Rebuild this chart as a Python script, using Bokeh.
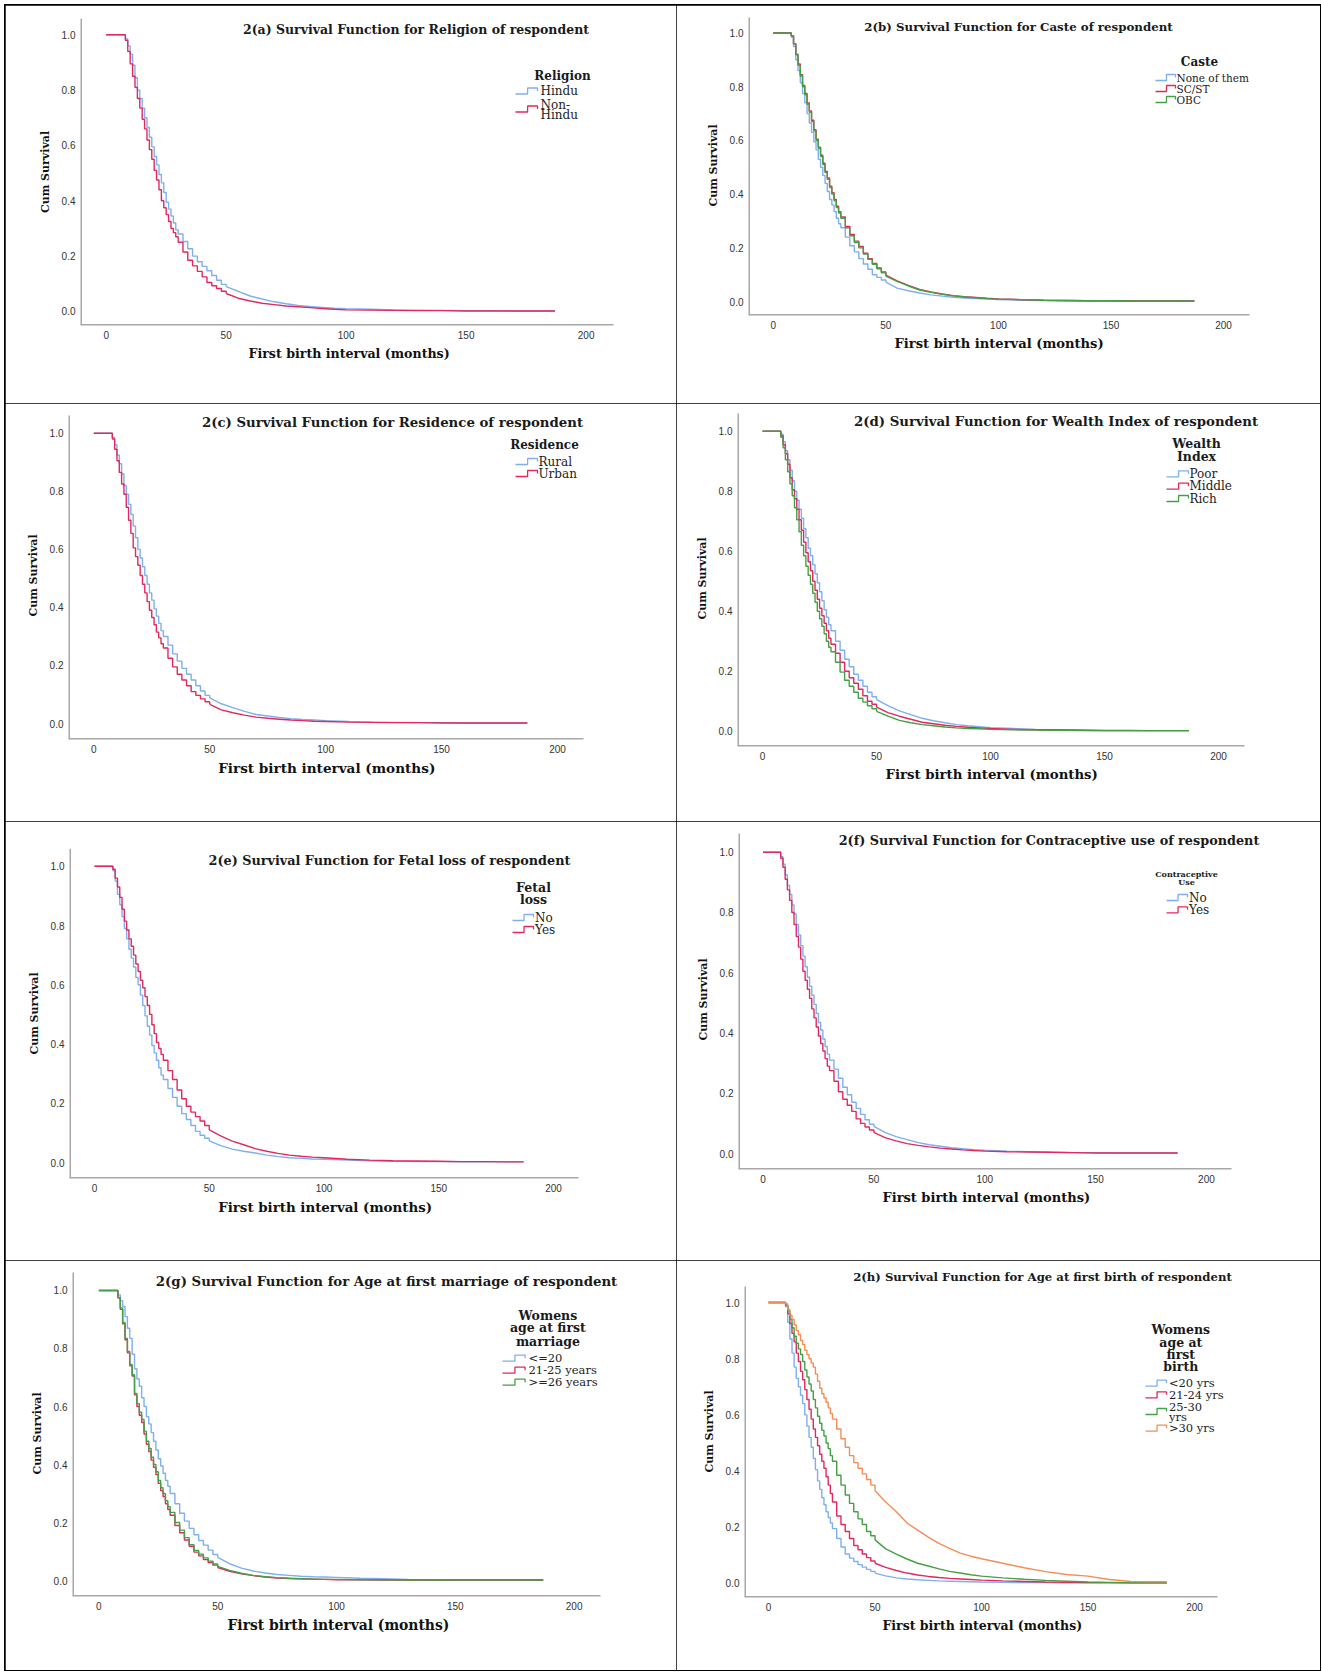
from bokeh.plotting import figure
from bokeh.layouts import column, row
from bokeh.models import Range1d, FixedTicker, PrintfTickFormatter, Label, Title
from bokeh.embed import file_html
from bokeh.resources import INLINE

# ---------------- data ----------------
MONTHS = [0, 7, 8, 9, 10, 11, 12, 13, 14, 15, 16, 17, 18, 19, 20, 21, 22, 23, 24, 25,
          26, 27, 28, 29, 30, 32, 34, 36, 38, 40, 42, 44, 46, 48, 50, 55, 60, 65, 70, 75,
          80, 85, 90, 95, 100, 110, 120, 130, 140, 150, 160, 170, 180, 187]

X_TICKS = [0, 50, 100, 150, 200]
Y_TICKS = [0.0, 0.2, 0.4, 0.6, 0.8, 1.0]

RELIGION_LABELS = ["Hindu", "Non-Hindu"]
S_HINDU = [1.0, 1.0, 0.985, 0.96, 0.93, 0.89, 0.845, 0.80, 0.77, 0.735,
           0.70, 0.665, 0.63, 0.595, 0.56, 0.53, 0.495, 0.465,
           0.43, 0.395, 0.37, 0.345, 0.32, 0.295, 0.28,
           0.253, 0.227, 0.20, 0.18, 0.163, 0.147, 0.13, 0.113, 0.098, 0.09,
           0.073, 0.056, 0.045, 0.035, 0.028, 0.022, 0.018, 0.015, 0.012, 0.01,
           0.008, 0.006, 0.005, 0.004, 0.003, 0.003, 0.002, 0.002, 0.002]
S_NON_HINDU = [1.0, 1.0, 0.98, 0.94, 0.895, 0.85, 0.81, 0.77, 0.735, 0.695,
               0.66, 0.62, 0.585, 0.55, 0.51, 0.475, 0.44, 0.40,
               0.375, 0.35, 0.325, 0.30, 0.285, 0.27, 0.25,
               0.215, 0.185, 0.165, 0.145, 0.125, 0.105, 0.093, 0.083, 0.073, 0.065,
               0.048, 0.038, 0.03, 0.025, 0.02, 0.017, 0.014, 0.011, 0.008, 0.006,
               0.005, 0.004, 0.003, 0.003, 0.002, 0.002, 0.002, 0.002, 0.002]

CASTE_LABELS = ["None of them", "SC/ST", "OBC"]
S_CASTE_NONE = [1.0, 1.0, 0.985, 0.95, 0.90, 0.86, 0.815, 0.775, 0.74, 0.70,
                0.665, 0.63, 0.595, 0.565, 0.53, 0.50, 0.47, 0.44,
                0.41, 0.38, 0.36, 0.335, 0.31, 0.29, 0.275,
                0.24, 0.208, 0.185, 0.16, 0.14, 0.12, 0.10, 0.09, 0.08, 0.072,
                0.05, 0.04, 0.032, 0.025, 0.02, 0.016, 0.013, 0.011, 0.009, 0.007,
                0.005, 0.004, 0.003, 0.003, 0.002, 0.002, 0.002, 0.002, 0.002]
S_CASTE_SCST = [1.0, 1.0, 0.99, 0.96, 0.92, 0.885, 0.845, 0.805, 0.775, 0.74,
                0.71, 0.675, 0.64, 0.605, 0.575, 0.545, 0.515, 0.485,
                0.46, 0.43, 0.405, 0.38, 0.355, 0.335, 0.315,
                0.28, 0.25, 0.225, 0.205, 0.18, 0.16, 0.142, 0.125, 0.11, 0.098,
                0.077, 0.06, 0.045, 0.036, 0.028, 0.022, 0.018, 0.015, 0.012, 0.01,
                0.007, 0.005, 0.004, 0.003, 0.003, 0.002, 0.002, 0.002, 0.002]
S_CASTE_OBC = [1.0, 1.0, 0.99, 0.96, 0.92, 0.88, 0.84, 0.80, 0.77, 0.735,
               0.705, 0.67, 0.635, 0.60, 0.57, 0.54, 0.51, 0.48,
               0.455, 0.425, 0.40, 0.375, 0.35, 0.33, 0.31,
               0.275, 0.245, 0.22, 0.20, 0.177, 0.157, 0.139, 0.122, 0.107, 0.095,
               0.075, 0.058, 0.043, 0.034, 0.027, 0.021, 0.017, 0.014, 0.011, 0.009,
               0.007, 0.005, 0.004, 0.003, 0.003, 0.002, 0.002, 0.002, 0.002]

RESIDENCE_LABELS = ["Rural", "Urban"]
S_RURAL = [1.0, 1.0, 0.985, 0.96, 0.925, 0.895, 0.86, 0.82, 0.79, 0.755,
           0.72, 0.68, 0.64, 0.60, 0.57, 0.54, 0.51, 0.48,
           0.45, 0.425, 0.395, 0.37, 0.345, 0.32, 0.30,
           0.27, 0.24, 0.215, 0.19, 0.17, 0.15, 0.13, 0.112, 0.097, 0.088,
           0.068, 0.055, 0.042, 0.031, 0.026, 0.021, 0.017, 0.014, 0.012, 0.01,
           0.007, 0.005, 0.004, 0.003, 0.003, 0.002, 0.002, 0.002, 0.002]
S_URBAN = [1.0, 1.0, 0.98, 0.945, 0.905, 0.865, 0.825, 0.79, 0.745, 0.70,
           0.655, 0.605, 0.575, 0.545, 0.51, 0.48, 0.45, 0.42,
           0.39, 0.365, 0.34, 0.315, 0.295, 0.275, 0.26,
           0.225, 0.195, 0.17, 0.15, 0.13, 0.11, 0.097, 0.085, 0.075, 0.066,
           0.047, 0.037, 0.029, 0.022, 0.018, 0.015, 0.012, 0.01, 0.008, 0.007,
           0.005, 0.004, 0.003, 0.003, 0.002, 0.002, 0.002, 0.002, 0.002]

WEALTH_LABELS = ["Poor", "Middle", "Rich"]
S_POOR = [1.0, 1.0, 0.99, 0.965, 0.935, 0.905, 0.87, 0.835, 0.80, 0.77,
          0.74, 0.71, 0.675, 0.645, 0.61, 0.585, 0.555, 0.525,
          0.495, 0.465, 0.435, 0.405, 0.38, 0.355, 0.335,
          0.30, 0.27, 0.24, 0.215, 0.19, 0.17, 0.15, 0.13, 0.115, 0.105,
          0.085, 0.068, 0.055, 0.043, 0.035, 0.028, 0.022, 0.018, 0.015, 0.012,
          0.009, 0.006, 0.005, 0.004, 0.003, 0.003, 0.002, 0.002, 0.002]
S_MIDDLE = [1.0, 1.0, 0.985, 0.955, 0.925, 0.89, 0.845, 0.805, 0.775, 0.74,
            0.705, 0.67, 0.63, 0.595, 0.565, 0.535, 0.50, 0.47,
            0.44, 0.41, 0.385, 0.36, 0.335, 0.31, 0.29,
            0.26, 0.23, 0.20, 0.178, 0.16, 0.14, 0.118, 0.10, 0.09, 0.08,
            0.062, 0.05, 0.04, 0.03, 0.025, 0.02, 0.016, 0.013, 0.011, 0.009,
            0.006, 0.005, 0.004, 0.003, 0.002, 0.002, 0.002, 0.002, 0.002]
S_RICH = [1.0, 1.0, 0.98, 0.945, 0.905, 0.865, 0.825, 0.785, 0.745, 0.705,
          0.665, 0.62, 0.585, 0.55, 0.52, 0.49, 0.46, 0.43,
          0.40, 0.375, 0.35, 0.325, 0.30, 0.28, 0.265,
          0.23, 0.197, 0.17, 0.15, 0.13, 0.11, 0.097, 0.085, 0.075, 0.066,
          0.05, 0.036, 0.028, 0.022, 0.018, 0.014, 0.011, 0.009, 0.008, 0.006,
          0.005, 0.004, 0.003, 0.002, 0.002, 0.002, 0.002, 0.002, 0.002]

FETAL_LABELS = ["No", "Yes"]
S_FETAL_NO = [1.0, 1.0, 0.985, 0.95, 0.905, 0.87, 0.83, 0.79, 0.755, 0.72,
              0.69, 0.66, 0.625, 0.60, 0.565, 0.53, 0.495, 0.46,
              0.43, 0.395, 0.37, 0.345, 0.32, 0.295, 0.28,
              0.25, 0.22, 0.19, 0.165, 0.145, 0.125, 0.105, 0.092, 0.082, 0.073,
              0.057, 0.045, 0.038, 0.032, 0.025, 0.02, 0.016, 0.014, 0.012, 0.011,
              0.008, 0.006, 0.004, 0.003, 0.003, 0.002, 0.002, 0.002, 0.002]
S_FETAL_YES = [1.0, 1.0, 0.99, 0.96, 0.93, 0.895, 0.855, 0.815, 0.785, 0.755,
               0.73, 0.70, 0.67, 0.645, 0.615, 0.59, 0.56, 0.53,
               0.50, 0.465, 0.435, 0.405, 0.385, 0.365, 0.345,
               0.31, 0.28, 0.245, 0.215, 0.19, 0.17, 0.155, 0.14, 0.125, 0.11,
               0.09, 0.072, 0.06, 0.047, 0.038, 0.031, 0.025, 0.021, 0.018, 0.016,
               0.011, 0.008, 0.006, 0.005, 0.004, 0.003, 0.003, 0.002, 0.002]

CONTRA_LABELS = ["No", "Yes"]
S_CONTRA_NO = [1.0, 1.0, 0.985, 0.96, 0.925, 0.89, 0.86, 0.825, 0.795, 0.76,
               0.725, 0.69, 0.655, 0.62, 0.585, 0.555, 0.525, 0.495,
               0.465, 0.435, 0.41, 0.38, 0.355, 0.33, 0.31,
               0.28, 0.25, 0.22, 0.195, 0.17, 0.15, 0.13, 0.112, 0.097, 0.09,
               0.07, 0.056, 0.046, 0.036, 0.029, 0.024, 0.019, 0.016, 0.013, 0.011,
               0.008, 0.006, 0.004, 0.003, 0.003, 0.002, 0.002, 0.002, 0.002]
S_CONTRA_YES = [1.0, 1.0, 0.98, 0.95, 0.91, 0.875, 0.84, 0.80, 0.76, 0.72,
                0.685, 0.645, 0.605, 0.575, 0.545, 0.515, 0.48, 0.45,
                0.42, 0.39, 0.365, 0.34, 0.315, 0.29, 0.275,
                0.24, 0.205, 0.18, 0.16, 0.14, 0.115, 0.10, 0.088, 0.078, 0.07,
                0.053, 0.042, 0.033, 0.027, 0.022, 0.018, 0.015, 0.012, 0.01, 0.008,
                0.006, 0.005, 0.004, 0.003, 0.002, 0.002, 0.002, 0.002, 0.002]

MARRIAGE_LABELS = ["<=20", "21-25 years", ">=26 years"]
S_MAR_LE20 = [1.0, 1.0, 0.985, 0.965, 0.945, 0.91, 0.87, 0.835, 0.78, 0.73,
              0.695, 0.67, 0.63, 0.60, 0.565, 0.54, 0.51, 0.48,
              0.45, 0.42, 0.395, 0.37, 0.345, 0.325, 0.30,
              0.265, 0.232, 0.205, 0.18, 0.158, 0.138, 0.122, 0.105, 0.09, 0.08,
              0.058, 0.043, 0.033, 0.026, 0.021, 0.018, 0.015, 0.013, 0.012, 0.011,
              0.008, 0.006, 0.004, 0.003, 0.003, 0.002, 0.002, 0.002, 0.002]
S_MAR_21_25 = [1.0, 1.0, 0.975, 0.935, 0.885, 0.83, 0.785, 0.74, 0.705, 0.64,
               0.60, 0.57, 0.545, 0.505, 0.47, 0.445, 0.415, 0.39,
               0.365, 0.335, 0.31, 0.29, 0.265, 0.245, 0.225,
               0.19, 0.165, 0.14, 0.118, 0.098, 0.085, 0.072, 0.062, 0.053, 0.045,
               0.032, 0.023, 0.017, 0.012, 0.009, 0.007, 0.006, 0.005, 0.004, 0.003,
               0.003, 0.002, 0.002, 0.002, 0.002, 0.002, 0.002, 0.002, 0.002]
S_MAR_GE26 = [1.0, 1.0, 0.975, 0.94, 0.89, 0.835, 0.79, 0.745, 0.71, 0.645,
              0.61, 0.58, 0.555, 0.515, 0.48, 0.455, 0.425, 0.40,
              0.375, 0.345, 0.32, 0.30, 0.275, 0.255, 0.235,
              0.2, 0.174, 0.148, 0.124, 0.104, 0.091, 0.078, 0.067, 0.057, 0.049,
              0.035, 0.025, 0.018, 0.013, 0.01, 0.008, 0.006, 0.005, 0.004, 0.004,
              0.003, 0.003, 0.002, 0.002, 0.002, 0.002, 0.002, 0.002, 0.002]

BIRTH_LABELS = ["<20 yrs", "21-24 yrs", "25-30 yrs", ">30 yrs"]
S_BIRTH_LT20 = [1.0, 1.0, 0.985, 0.93, 0.87, 0.82, 0.77, 0.73, 0.70, 0.67,
                0.64, 0.60, 0.56, 0.52, 0.485, 0.445, 0.405, 0.365,
                0.335, 0.305, 0.28, 0.255, 0.235, 0.215, 0.195,
                0.16, 0.13, 0.105, 0.09, 0.078, 0.067, 0.058, 0.05, 0.043, 0.037,
                0.027, 0.02, 0.016, 0.013, 0.011, 0.009, 0.008, 0.007, 0.006, 0.005,
                0.004, 0.003, 0.003, 0.002, 0.002, 0.002, 0.002, 0.002, 0.002]
S_BIRTH_21_24 = [1.0, 1.0, 0.99, 0.96, 0.925, 0.89, 0.86, 0.82, 0.79, 0.755,
                 0.725, 0.69, 0.655, 0.62, 0.585, 0.55, 0.52, 0.49,
                 0.46, 0.435, 0.41, 0.38, 0.35, 0.32, 0.29,
                 0.24, 0.21, 0.185, 0.16, 0.135, 0.12, 0.105, 0.092, 0.08, 0.072,
                 0.057, 0.046, 0.037, 0.03, 0.025, 0.021, 0.018, 0.016, 0.014, 0.012,
                 0.009, 0.007, 0.005, 0.004, 0.003, 0.003, 0.002, 0.002, 0.002]
S_BIRTH_25_30 = [1.0, 1.0, 0.99, 0.97, 0.94, 0.91, 0.88, 0.855, 0.835, 0.815,
                 0.79, 0.76, 0.735, 0.71, 0.685, 0.655, 0.625, 0.595,
                 0.57, 0.545, 0.525, 0.50, 0.48, 0.455, 0.435,
                 0.385, 0.35, 0.315, 0.285, 0.255, 0.23, 0.21, 0.185, 0.17, 0.155,
                 0.123, 0.104, 0.087, 0.072, 0.062, 0.052, 0.043, 0.037, 0.031, 0.026,
                 0.02, 0.015, 0.011, 0.008, 0.005, 0.004, 0.003, 0.003, 0.003]
S_BIRTH_GT30 = [1.0, 1.0, 0.995, 0.975, 0.955, 0.94, 0.92, 0.90, 0.885, 0.865,
                0.85, 0.83, 0.815, 0.80, 0.785, 0.77, 0.745, 0.72,
                0.695, 0.675, 0.66, 0.645, 0.625, 0.605, 0.585,
                0.55, 0.515, 0.485, 0.455, 0.43, 0.41, 0.39, 0.37, 0.35, 0.33,
                0.29, 0.255, 0.215, 0.19, 0.165, 0.143, 0.125, 0.108, 0.097, 0.088,
                0.072, 0.056, 0.042, 0.032, 0.026, 0.014, 0.007, 0.006, 0.006]

# ---------------- style ----------------
SERIF = "DejaVu Serif"
SANS = "Liberation Sans"
BLUE, RED, GREEN, ORANGE = "#7FAFEE", "#E2285E", "#44A044", "#F78C55"
AXIS_GREY = "#A8A8A8"
STEP_UNTIL = 50  # fine steps are drawn as stairs up to here, the dense tail as a polyline
PAGE_X, PAGE_Y = 5, 5  # offset of the whole layout on the page

# geometry in page pixels: cell = (x, y, w, h); frame = axis box (left, top, right, bottom)
PANELS = [
    dict(title="2(a) Survival Function for Religion of respondent", tsize=12.5, tpos=(415.5, 29),
         cell=(5, 5, 671, 398), frame=(80, 18, 613, 325), xr=(-10.7, 211.4), yr=(-0.0506, 1.0589),
         xlab=(248, 12.6),
         ltitle=["Religion"], lsize=12, lx=562, ly=[75],
         labels=RELIGION_LABELS, series=[S_HINDU, S_NON_HINDU], colors=[BLUE, RED],
         sym=(515, 537), tx=540, isize=12, sym_y=[90.5, 108.5],
         lines=[[("Hindu", 90.7)], [("Non-", 104), ("Hindu", 114.3)]]),
    dict(title="2(b) Survival Function for Caste of respondent", tsize=11.8, tpos=(1018, 26),
         cell=(676, 5, 644, 398), frame=(748, 17, 1249, 315), xr=(-11.0, 211.5), yr=(-0.052, 1.058),
         xlab=(894, 13.1),
         ltitle=["Caste"], lsize=12, lx=1199, ly=[61],
         labels=CASTE_LABELS, series=[S_CASTE_NONE, S_CASTE_SCST, S_CASTE_OBC], colors=[BLUE, RED, GREEN],
         sym=(1155, 1175), tx=1176, isize=10.5, sym_y=[77, 88, 99], lines=None),
    dict(title="2(c) Survival Function for Residence of respondent", tsize=13.3, tpos=(392, 422),
         cell=(5, 403, 671, 418), frame=(68, 415, 583, 739), xr=(-10.9, 211.2), yr=(-0.055, 1.061),
         xlab=(217.7, 13.6),
         ltitle=["Residence"], lsize=12, lx=544, ly=[444],
         labels=RESIDENCE_LABELS, series=[S_RURAL, S_URBAN], colors=[BLUE, RED],
         sym=(515, 537), tx=538, isize=12, sym_y=[461, 473], lines=None),
    dict(title="2(d) Survival Function for Wealth Index of respondent", tsize=13.3, tpos=(1055.5, 421),
         cell=(676, 403, 644, 418), frame=(737, 413, 1244, 746), xr=(-11.0, 211.4), yr=(-0.051, 1.059),
         xlab=(885, 13.3),
         ltitle=["Wealth", "Index"], lsize=12.5, lx=1196, ly=[443.3, 455.7],
         labels=WEALTH_LABELS, series=[S_POOR, S_MIDDLE, S_RICH], colors=[BLUE, RED, GREEN],
         sym=(1166, 1188), tx=1189, isize=12, sym_y=[473.3, 485.7, 498], lines=None),
    dict(title="2(e) Survival Function for Fetal loss of respondent", tsize=12.8, tpos=(389, 860),
         cell=(5, 821, 671, 439), frame=(69, 848, 578, 1178), xr=(-10.9, 210.9), yr=(-0.054, 1.06),
         xlab=(217.7, 13.4),
         ltitle=["Fetal", "loss"], lsize=12.5, lx=533, ly=[886.7, 899.3],
         labels=FETAL_LABELS, series=[S_FETAL_NO, S_FETAL_YES], colors=[BLUE, RED],
         sym=(512, 533), tx=534.5, isize=12, sym_y=[917, 929], lines=None),
    dict(title="2(f) Survival Function for Contraceptive use of respondent", tsize=12.8, tpos=(1048.5, 840),
         cell=(676, 821, 644, 439), frame=(738, 833, 1231, 1169), xr=(-11.05, 211.3), yr=(-0.053, 1.062),
         xlab=(882, 13.0),
         ltitle=["Contraceptive", "Use"], lsize=8, lx=1186, ly=[873.3, 881.7],
         labels=CONTRA_LABELS, series=[S_CONTRA_NO, S_CONTRA_YES], colors=[BLUE, RED],
         sym=(1166, 1187), tx=1188.6, isize=12, sym_y=[897, 909.3], lines=None),
    dict(title="2(g) Survival Function for Age at first marriage of respondent", tsize=13.3, tpos=(386, 1281),
         cell=(5, 1260, 671, 410), frame=(72, 1272, 600, 1596), xr=(-11.1, 211.1), yr=(-0.055, 1.062),
         xlab=(227, 13.9),
         ltitle=["Womens", "age at first", "marriage"], lsize=12.5, lx=547.4, ly=[1315, 1327.3, 1340.7],
         labels=MARRIAGE_LABELS, series=[S_MAR_LE20, S_MAR_21_25, S_MAR_GE26], colors=[BLUE, RED, GREEN],
         sym=(502, 524.6), tx=528, isize=11.5, sym_y=[1357.7, 1369.7, 1381.7], lines=None),
    dict(title="2(h) Survival Function for Age at first birth of respondent", tsize=11.7, tpos=(1042, 1276),
         cell=(676, 1260, 644, 410), frame=(744, 1286, 1217, 1597), xr=(-11.3, 210.8), yr=(-0.05, 1.057),
         xlab=(882, 12.5),
         ltitle=["Womens", "age at", "first", "birth"], lsize=12.5, lx=1180.3, ly=[1329, 1341.7, 1354, 1365.7],
         labels=BIRTH_LABELS, series=[S_BIRTH_LT20, S_BIRTH_21_24, S_BIRTH_25_30, S_BIRTH_GT30],
         colors=[BLUE, RED, GREEN, ORANGE],
         sym=(1145, 1166), tx=1168.4, isize=11.5, sym_y=[1382.7, 1394.3, 1411, 1427.7],
         lines=[[("<20 yrs", 1382.7)], [("21-24 yrs", 1394.3)], [("25-30", 1406.7), ("yrs", 1416)],
                [(">30 yrs", 1427.7)]]),
]


def make_panel(g):
    cx, cy, cw, ch = g["cell"]
    fl, ft, fr, fb = g["frame"]
    x0, x1 = g["xr"]
    y0, y1 = g["yr"]

    def to_data(ax, ay):
        return (x0 + (ax - fl) / (fr - fl) * (x1 - x0),
                y1 - (ay - ft) / (fb - ft) * (y1 - y0))

    # the plotting frame is widened to the cell edge (and raised above the title if needed)
    # so that texts are never clipped; the visible axis lines keep the reference extent
    new_fr = cx + cw - 3
    new_ft = min(ft, g["tpos"][1] - 11)
    x1n, _ = to_data(new_fr, fb)
    _, y1n = to_data(fl, new_ft)

    p = figure(width=cw, height=ch, x_range=Range1d(x0, x1n), y_range=Range1d(y0, y1n),
               output_backend="svg", toolbar_location=None, title=None, frame_align=False,
               min_border_left=int(round(fl - cx)), min_border_top=int(round(new_ft - cy)),
               min_border_right=int(round(cx + cw - new_fr)), min_border_bottom=int(round(cy + ch - fb)))
    p.styles = {"outline": "1px solid #000000", "outline-offset": "-1px"}
    p.outline_line_color = None
    p.grid.visible = False
    p.background_fill_color = "white"
    p.border_fill_color = "white"

    p.xaxis.ticker = FixedTicker(ticks=X_TICKS)
    p.yaxis.ticker = FixedTicker(ticks=Y_TICKS)
    p.xaxis.formatter = PrintfTickFormatter(format="%d")
    p.yaxis.formatter = PrintfTickFormatter(format="%.1f")
    for ax in (p.xaxis[0], p.yaxis[0]):
        ax.major_tick_line_color = None
        ax.minor_tick_line_color = None
        ax.major_tick_out = 0
        ax.major_tick_in = 0
        ax.minor_tick_out = 0
        ax.minor_tick_in = 0
        ax.axis_line_color = None
        ax.major_label_text_font = SANS
        ax.major_label_text_font_size = "10px"
        ax.major_label_text_color = "#333333"
    p.yaxis.axis_label = "Cum Survival"
    p.yaxis.axis_label_text_font = SERIF
    p.yaxis.axis_label_text_font_style = "bold"
    p.yaxis.axis_label_text_font_size = "11px"
    p.yaxis.axis_label_text_color = "#111111"
    p.yaxis.axis_label_standoff = 7
    p.xaxis.major_label_standoff = 5
    p.yaxis.major_label_standoff = 5

    xl_left, xl_size = g["xlab"]
    p.add_layout(Title(text="First birth interval (months)", align="left", offset=xl_left - fl,
                       text_font=SERIF, text_font_style="bold", text_font_size=f"{xl_size}px",
                       text_color="#111111", standoff=4), "below")

    # axis lines with the reference extent
    p.segment(x0=[x0, x0], y0=[y0, y0], x1=[x0, x1], y1=[y1, y0],
              line_color=AXIS_GREY, line_width=3)

    k = MONTHS.index(STEP_UNTIL)
    for s, c in zip(g["series"], g["colors"]):
        p.step(MONTHS[:k + 1], s[:k + 1], mode="after", line_color=c, line_width=1.4)
        p.line(MONTHS[k:], s[k:], line_color=c, line_width=1.4)

    # chart title
    tx, ty = to_data(*g["tpos"])
    p.add_layout(Label(x=tx, y=ty, text=g["title"], text_font=SERIF, text_font_style="bold",
                       text_font_size=f"{g['tsize']}px", text_color="#1a1a1a",
                       text_align="center", text_baseline="middle"))
    # legend title
    for line, ly in zip(g["ltitle"], g["ly"]):
        lx_, ly_ = to_data(g["lx"], ly)
        p.add_layout(Label(x=lx_, y=ly_, text=line, text_font=SERIF, text_font_style="bold",
                           text_font_size=f"{g['lsize']}px", text_color="#1a1a1a",
                           text_align="center", text_baseline="middle"))
    # legend items
    sx0, sx1 = g["sym"]
    rise = sx0 + 0.55 * (sx1 - sx0)
    lines = g["lines"] or [[(lab, sy)] for lab, sy in zip(g["labels"], g["sym_y"])]
    for c, sy, item in zip(g["colors"], g["sym_y"], lines):
        pts = [(sx0, sy + 3), (rise, sy + 3), (rise, sy - 3), (sx1, sy - 3), (sx1, sy)]
        xs, ys = zip(*[to_data(a, b) for a, b in pts])
        p.line(list(xs), list(ys), line_color=c, line_width=1.3)
        for txt, yy in item:
            lx_, ly_ = to_data(g["tx"], yy)
            p.add_layout(Label(x=lx_, y=ly_, text=txt, text_font=SERIF,
                               text_font_size=f"{g['isize']}px", text_color="#222222",
                               text_align="left", text_baseline="middle"))
    return p


figs = [make_panel(g) for g in PANELS]
page = column(row(figs[0], figs[1], spacing=0), row(figs[2], figs[3], spacing=0),
              row(figs[4], figs[5], spacing=0), row(figs[6], figs[7], spacing=0), spacing=0)
page.styles = {"outline": "1px solid #000000", "margin-left": f"{PAGE_X}px", "margin-top": f"{PAGE_Y}px"}

open("out.html", "w").write(file_html(page, INLINE))
